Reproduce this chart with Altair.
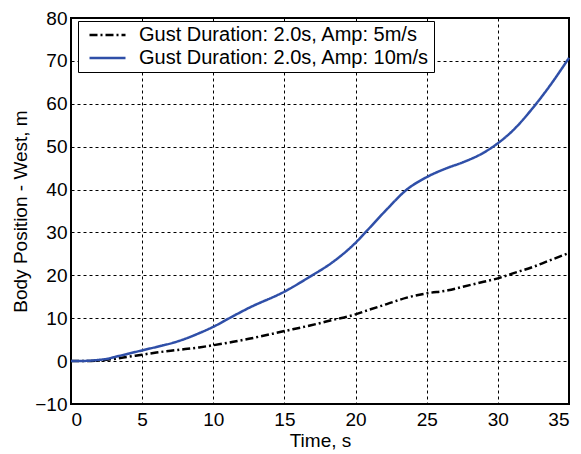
import altair as alt
import pandas as pd

time_s = [0, 1, 2, 2.5, 3, 4, 5, 6, 7.5, 9, 10, 11.4, 12.5, 15, 16.8, 18.4, 20,
          20.8, 22.2, 23.6, 25, 26.5, 27.5, 29, 30, 31, 32.5, 33.5, 35]
amp_5 = [0, 0.02, 0.15, 0.3, 0.5, 1.0, 1.5, 2.0, 2.6, 3.2, 3.7, 4.5, 5.2, 7.0, 8.3,
         9.6, 10.9, 11.8, 13.3, 14.8, 15.8, 16.5, 17.3, 18.5, 19.3, 20.4, 22.0, 23.3, 25.2]
amp_10 = [0, 0.05, 0.3, 0.5, 0.9, 1.7, 2.5, 3.3, 4.6, 6.5, 8.0, 10.5, 12.4, 16.2, 19.7,
          23.1, 27.6, 30.4, 35.4, 40.0, 42.9, 45.1, 46.3, 48.6, 50.8, 53.6, 59.2, 63.5, 70.7]
series_names = ["Gust Duration: 2.0s, Amp: 5m/s", "Gust Duration: 2.0s, Amp: 10m/s"]
x_ticks = [0, 5, 10, 15, 20, 25, 30, 35]
y_ticks = [-10, 0, 10, 20, 30, 40, 50, 60, 70, 80]

rows = []
for t, a, b in zip(time_s, amp_5, amp_10):
    rows.append({"t": t, "pos": a, "series": series_names[0], "k": 0})
    rows.append({"t": t, "pos": b, "series": series_names[1], "k": 1})
df = pd.DataFrame(rows)

FONT = "Liberation Sans"

legend = alt.Legend(
    title=None, orient="none", legendX=7, legendY=3,
    symbolType="stroke", symbolSize=1296, symbolStrokeWidth=2.5,
    clipHeight=20, rowPadding=3,
    labelFont=FONT, labelFontSize=20, labelColor="black", labelLimit=500,
    labelOffset=12, symbolOffset=6, padding=4,
    strokeColor="black", fillColor="white",
    labelExpr="datum.label + '\u00a0\u00a0'",
)

chart = alt.Chart(df).mark_line(strokeWidth=2.5, interpolate="monotone").encode(
    x=alt.X("t:Q", scale=alt.Scale(domain=[0, 35], nice=False),
            axis=alt.Axis(title="Time, s", values=x_ticks, labelPadding=6, titlePadding=2)),
    y=alt.Y("pos:Q", scale=alt.Scale(domain=[-10, 80], nice=False),
            axis=alt.Axis(title="Body Position - West, m", values=y_ticks,
                          labelPadding=4, titlePadding=4)),
    color=alt.Color("series:N", scale=alt.Scale(domain=series_names, range=["black", "#2F4FA8"]),
                    legend=legend),
    strokeDash=alt.StrokeDash("series:N",
                              scale=alt.Scale(domain=series_names, range=[[8, 3, 2, 3], [1, 0]]),
                              legend=legend),
    order=alt.Order("t:Q"),
).properties(
    width=498, height=386,
    padding={"left": 63, "top": 10, "right": 4, "bottom": 50},
    autosize=alt.AutoSizeParams(type="none"),
).configure_view(
    stroke="black", strokeWidth=2
).configure_axis(
    grid=True, gridColor="black", gridDash=[3, 3], gridWidth=1, gridOpacity=1,
    domain=False, ticks=False,
    labelFont=FONT, labelFontSize=19, labelColor="black",
    titleFont=FONT, titleFontSize=19, titleFontWeight="normal", titleColor="black",
)

chart.save("out.html", embed_options={"renderer": "svg", "actions": False})
